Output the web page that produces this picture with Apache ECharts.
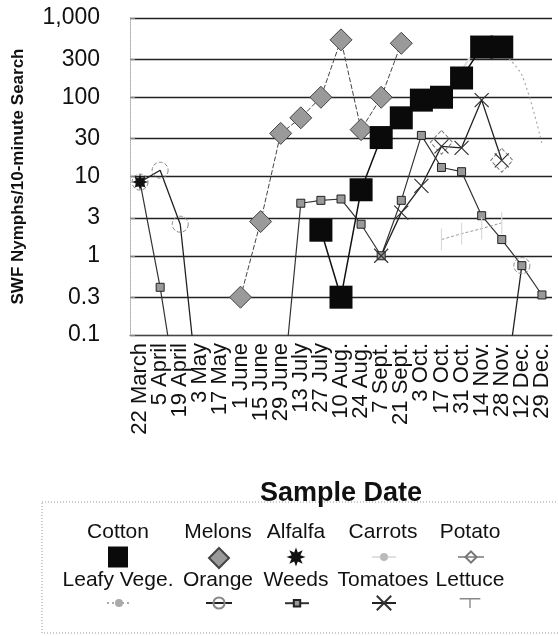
<!DOCTYPE html>
<html>
<head>
<meta charset="utf-8">
<script src="https://cdn.jsdelivr.net/npm/echarts@6/dist/echarts.min.js"></script>
<style>
html, body { margin: 0; padding: 0; background: #fff; }
#chart { width: 558px; height: 636px; }
</style>
</head>
<body>
<div id="chart"></div>
<script>
// sample dates (x categories)
const dates = ['22 March', '5 April', '19 April', '3 May', '17 May', '1 June', '15 June', '29 June',
  '13 July', '27 July', '10 Aug.', '24 Aug.', '7 Sept.', '21 Sept.', '3 Oct.', '17 Oct.', '31 Oct.',
  '14 Nov.', '28 Nov.', '12 Dec.', '29 Dec.']

const yTicks = [0.1, 0.3, 1, 3, 10, 30, 100, 300, 1000]
const yTickLabels = ['0.1', '0.3', '1', '3', '10', '30', '100', '300', '1,000']

// nymphs per 10-minute search; 0.01 = none found (line drops off the bottom)
const cotton   = [null, null, null, null, null, null, null, null, null, 2.1, 0.3, 6.8, 31, 55, 92, 100, 175, 430, 430, null, null]
const melons   = [null, null, null, null, null, 0.3, 2.7, 35, 55, 100, 530, 39, 100, 480, null, null, null, null, null, null, null]
const alfalfa  = [8.5, null, null, null, null, null, null, null, null, null, null, null, null, null, null, null, null, null, null, null, null]
const carrots  = [null, null, null, null, null, null, null, null, null, null, null, null, null, null, null, 80, 220, 520, 380, null, null]
const potato   = [null, null, null, null, null, null, null, null, null, null, null, null, null, null, null, 27, null, null, 16, null, null]
const leafy    = [null, null, null, null, null, null, null, null, null, null, null, null, null, null, null, null, null, null, 380, 190, 26]
const orange   = [8.5, 12, 2.5, 0.01, null, null, null, null, null, null, null, null, null, null, null, null, null, null, 0.01, 0.75, null]
const weeds    = [8.5, 0.4, 0.01, null, null, null, null, 0.01, 4.6, 5.0, 5.2, 2.5, 1.0, 5, 33, 13, 11.5, 3.2, 1.6, 0.75, 0.32]
const tomatoes = [null, null, null, null, null, null, null, null, null, null, null, null, 1.0, 3.5, 7.6, 24, 23, 92, 16, null, null]
const lettuce  = [null, null, null, null, null, null, null, null, null, null, null, null, null, null, null, 1.6, 1.9, 2.2, 2.6, null, null]

const font = 'Liberation Sans, Arial, sans-serif'

function starPath(n, r1, r2) {
  let d = ''
  for (let i = 0; i < 2 * n; i++) {
    const r = i % 2 ? r2 : r1
    const a = Math.PI * i / n - Math.PI / 2
    d += (i ? 'L' : 'M') + (10 + r * Math.cos(a)).toFixed(2) + ',' + (10 + r * Math.sin(a)).toFixed(2)
  }
  return 'path://' + d + 'Z'
}
const starSymbol = starPath(8, 10, 5)
const crossSymbol = 'path://M0,0L10,10M10,0L0,10'
const teeSymbol = 'path://M0,0h24v1.6h-24zM11.2,1.6h1.6v10h-1.6z'

// values under the axis minimum get no marker
const pts = arr => arr.map(v => (v !== null && v < 0.1) ? { value: v, symbol: 'none' } : v)

const chart = echarts.init(document.getElementById('chart'))

const series = [
  {
    name: 'Melons', data: pts(melons), symbol: 'diamond', symbolSize: 22,
    lineStyle: { color: '#444', width: 1, type: [5, 2] },
    itemStyle: { color: '#9a9a9a', borderColor: '#444', borderWidth: 1 }
  },
  {
    name: 'Orange', data: pts(orange), symbol: 'circle', symbolSize: 16,
    lineStyle: { color: '#222', width: 1.3 },
    itemStyle: { color: 'rgba(255,255,255,0)', borderColor: '#888', borderWidth: 1, borderType: 'dashed' }
  },
  {
    name: 'Weeds', data: pts(weeds), symbol: 'rect', symbolSize: 8,
    lineStyle: { color: '#333', width: 1.2 },
    itemStyle: { color: '#999', borderColor: '#222', borderWidth: 1 }
  },
  {
    name: 'Alfalfa', data: pts(alfalfa), symbol: starSymbol, symbolSize: 16,
    lineStyle: { color: '#222', width: 1.2 },
    itemStyle: { color: '#111' }
  },
  {
    name: 'Potato', data: pts(potato), symbol: 'diamond', symbolSize: [22, 24],
    lineStyle: { color: '#999', width: 1 },
    itemStyle: { color: 'rgba(255,255,255,0)', borderColor: '#777', borderWidth: 1, borderType: 'dashed' }
  },
  {
    name: 'Tomatoes', data: pts(tomatoes), symbol: crossSymbol, symbolSize: 14,
    lineStyle: { color: '#222', width: 1.3 },
    itemStyle: { color: 'rgba(0,0,0,0)', borderColor: '#333', borderWidth: 1.2 }
  },
  {
    name: 'Lettuce', data: pts(lettuce), symbol: 'rect', symbolSize: [1.2, 22],
    lineStyle: { color: '#999', width: 1, type: [3, 2] },
    itemStyle: { color: '#dadada' }
  },
  {
    name: 'Cotton', data: pts(cotton), symbol: 'rect', symbolSize: 23,
    lineStyle: { color: '#111', width: 1.5 },
    itemStyle: { color: '#0a0a0a' }
  },
  {
    name: 'Carrots', data: pts(carrots), symbol: 'none',
    lineStyle: { color: '#e0e0e0', width: 2 },
    itemStyle: { color: '#bbb' }
  },
  {
    name: 'Leafy Vege.', data: pts(leafy), symbol: 'none', smooth: 0.3,
    lineStyle: { color: '#aaa', width: 1.2, type: [2, 3] },
    itemStyle: { color: '#aaa' }
  }
].map(s => Object.assign({ type: 'line', clip: true, connectNulls: false, z: 3 }, s))

// legend: names above icons, two rows of five
const legendCols = [118, 218, 296, 383, 470]
const legendRows = [
  ['Cotton', 'Melons', 'Alfalfa', 'Carrots', 'Potato'],
  ['Leafy Vege.', 'Orange', 'Weeds', 'Tomatoes', 'Lettuce']
]
const nameY = [532, 580]
const iconY = [557, 603]
const iconSpec = {
  'Cotton': { icon: 'rect', w: 20, h: 21 },
  'Melons': { icon: 'diamond', w: 20, h: 20 },
  'Alfalfa': { icon: starSymbol, w: 19, h: 19 },
  'Carrots': { w: 24, h: 10 },
  'Potato': { w: 26, h: 14 },
  'Leafy Vege.': { w: 24, h: 10 },
  'Orange': { w: 26, h: 14 },
  'Weeds': { w: 24, h: 8 },
  'Tomatoes': { w: 24, h: 18 },
  'Lettuce': { icon: teeSymbol, w: 24, h: 10, color: '#888' }
}

const legends = []
const graphics = [{
  type: 'rect', silent: true,
  shape: { x: 42, y: 502, width: 530, height: 131 },
  style: { fill: 'none', stroke: '#999', lineWidth: 1, lineDash: [1, 2] }
}]
legendRows.forEach((row, r) => {
  row.forEach((name, c) => {
    const sp = iconSpec[name]
    const item = sp.icon ? { name: name, icon: sp.icon } : { name: name }
    if (sp.color) item.itemStyle = { color: sp.color }
    legends.push({
      data: [item], selectedMode: false, orient: 'horizontal',
      left: legendCols[c] - sp.w / 2, top: iconY[r] - sp.h / 2,
      itemWidth: sp.w, itemHeight: sp.h, padding: 0, itemGap: 0,
      formatter: () => '', textStyle: { fontSize: 1 }
    })
    graphics.push({
      type: 'text', silent: true,
      x: legendCols[c], y: nameY[r],
      style: { text: name, font: '21px ' + font, fill: '#111', align: 'center', verticalAlign: 'middle' }
    })
  })
})

const option = {
  backgroundColor: '#fff',
  animation: false,
  textStyle: { fontFamily: font },
  grid: { left: 130, right: 6, top: 18, bottom: 301, containLabel: false },
  xAxis: {
    type: 'category',
    data: dates,
    boundaryGap: true,
    name: 'Sample Date',
    nameLocation: 'middle',
    nameGap: 145,
    nameTextStyle: { fontSize: 27, fontWeight: 'bold', color: '#111', fontFamily: font },
    axisLine: { lineStyle: { color: '#444', width: 1 } },
    axisTick: { inside: true, length: 9, alignWithLabel: true, lineStyle: { color: '#666' } },
    axisLabel: { rotate: 90, fontSize: 22, margin: 8, color: '#111', interval: 0, fontFamily: font },
    splitLine: { show: false }
  },
  yAxis: {
    type: 'log',
    logBase: 10,
    min: 0.1,
    max: 1000,
    name: 'SWF Nymphs/10-minute Search',
    nameLocation: 'middle',
    nameRotate: 90,
    nameGap: 103,
    nameTextStyle: { fontSize: 17, fontWeight: 'bold', color: '#111', fontFamily: font },
    axisLine: { show: true, lineStyle: { color: '#aaa', width: 1, type: 'dotted' } },
    axisTick: { show: true, inside: true, length: 5, customValues: yTicks, lineStyle: { color: '#888' } },
    axisLabel: {
      fontSize: 23, color: '#111', margin: 30, fontFamily: font,
      customValues: yTicks,
      formatter: v => {
        const i = yTicks.findIndex(t => Math.abs(Math.log10(t) - Math.log10(v)) < 1e-6)
        return i >= 0 ? yTickLabels[i] : ''
      }
    },
    splitLine: { show: true, lineStyle: { color: '#222', width: 1.3 } }
  },
  legend: legends,
  graphic: graphics,
  series: series
}

chart.setOption(option)
</script>
</body>
</html>
